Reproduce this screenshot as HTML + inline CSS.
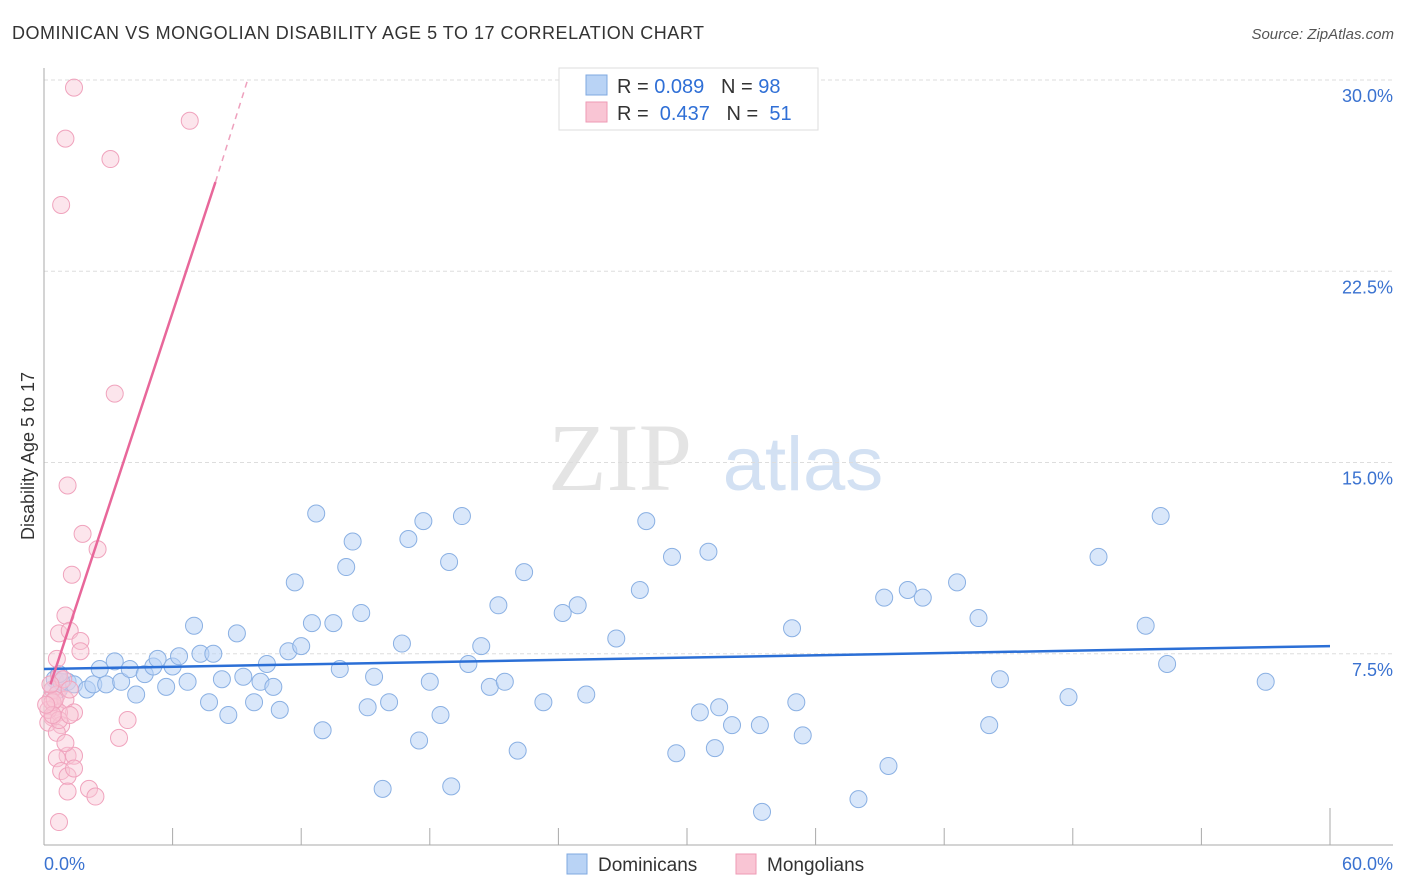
<!DOCTYPE html>
<html><head><meta charset="utf-8"><style>
body{margin:0;background:#fff;font-family:"Liberation Sans",sans-serif}
svg{display:block}
</style></head><body>
<svg id="chart" width="1406" height="892">
<text x="12" y="39" font-size="18" fill="#333" textLength="692">DOMINICAN VS MONGOLIAN DISABILITY AGE 5 TO 17 CORRELATION CHART</text>
<text x="1394" y="39" font-size="15" fill="#555" text-anchor="end" font-style="italic">Source: ZipAtlas.com</text>
<text x="620" y="490" font-size="96" fill="#e4e4e4" font-family="Liberation Serif,serif" text-anchor="middle">ZIP</text>
<text x="803" y="490" font-size="76" fill="#d3e1f3" text-anchor="middle">atlas</text>
<text transform="translate(34,456) rotate(-90)" font-size="18" fill="#333" text-anchor="middle">Disability Age 5 to 17</text>
<g id="grid"></g><g id="marks"></g><g id="lines"></g>
<g>
<rect x="559" y="68" width="259" height="62" fill="#fff" stroke="#ddd"/>
<rect x="586" y="75" width="21" height="20" fill="#b9d3f5" stroke="#7fa8e0"/>
<rect x="586" y="102" width="21" height="20" fill="#f9c5d4" stroke="#ee9ab5"/>
<text x="617" y="93" font-size="20" fill="#333">R = <tspan fill="#2f6fd6">0.089</tspan>&#160;&#160;&#160;N = <tspan fill="#2f6fd6">98</tspan></text>
<text x="617" y="120" font-size="20" fill="#333">R = <tspan fill="#2f6fd6">&#160;0.437</tspan>&#160;&#160;&#160;N = <tspan fill="#2f6fd6">&#160;51</tspan></text>
</g>
<g>
<rect x="567" y="854" width="20" height="20" fill="#b9d3f5" stroke="#7fa8e0"/>
<text x="598" y="871" font-size="19" fill="#333">Dominicans</text>
<rect x="736" y="854" width="20" height="20" fill="#f9c5d4" stroke="#ee9ab5"/>
<text x="767" y="871" font-size="19" fill="#333">Mongolians</text>
</g>
</svg>
<script>
const yTicks=[7.5,15,22.5,30];
const xTickLabels=["0.0%","60.0%"];
const domX=[0.5,0.7,1.1,1.4,2.0,2.3,2.6,2.9,3.3,3.6,4.0,4.3,4.7,5.1,5.3,5.7,6.0,6.3,6.7,7.0,7.3,7.7,7.9,8.3,8.6,9.0,9.3,9.8,10.1,10.4,10.7,11.0,11.4,11.7,12.0,12.5,12.7,13.0,13.5,13.8,14.1,14.4,14.8,15.1,15.4,15.8,16.1,16.7,17.0,17.5,17.7,18.0,18.5,18.9,19.0,19.5,19.8,20.4,20.8,21.2,21.5,22.1,22.4,23.3,24.2,24.9,25.3,26.7,27.8,28.1,29.3,29.5,30.6,31.0,31.3,31.5,32.1,33.4,33.5,34.9,35.1,35.4,38.0,39.2,39.4,40.3,41.0,42.6,43.6,44.1,44.6,47.8,49.2,51.4,52.1,52.4,57.0,0.4,0.8,0.7];
const domY=[6.5,6.1,6.4,6.3,6.1,6.3,6.9,6.3,7.2,6.4,6.9,5.9,6.7,7.0,7.3,6.2,7.0,7.4,6.4,8.6,7.5,5.6,7.5,6.5,5.1,8.3,6.6,5.6,6.4,7.1,6.2,5.3,7.6,10.3,7.8,8.7,13.0,4.5,8.7,6.9,10.9,11.9,9.1,5.4,6.6,2.2,5.6,7.9,12.0,4.1,12.7,6.4,5.1,11.1,2.3,12.9,7.1,7.8,6.2,9.4,6.4,3.7,10.7,5.6,9.1,9.4,5.9,8.1,10.0,12.7,11.3,3.6,5.2,11.5,3.8,5.4,4.7,4.7,1.3,8.5,5.6,4.3,1.8,9.7,3.1,10.0,9.7,10.3,8.9,4.7,6.5,5.8,11.3,8.6,12.9,7.1,6.4,6.1,6.4,6.7];
const monX=[1.4,1.0,6.8,3.1,0.8,3.3,1.1,1.8,2.5,1.3,1.0,0.7,1.2,1.7,1.7,0.6,0.7,0.4,0.6,0.3,0.5,1.0,1.4,0.4,0.2,0.7,0.8,0.6,1.1,1.4,0.6,0.8,1.1,1.4,2.1,1.1,2.4,3.9,3.5,0.7,0.2,0.4,0.9,0.5,1.2,0.3,0.7,1.0,0.4,0.1,1.2];
const monY=[29.7,27.7,28.4,26.9,25.1,17.7,14.1,12.2,11.6,10.6,9.0,8.3,8.4,8.0,7.6,7.3,6.6,6.1,5.9,5.7,5.4,5.7,5.2,5.0,4.8,5.2,4.7,4.4,3.5,3.5,3.4,2.9,2.7,3.0,2.2,2.1,1.9,4.9,4.2,0.9,5.3,5.6,6.5,5.7,6.1,6.3,4.9,4.0,5.1,5.5,5.1];
const domTrend=[6.9,7.8];
const monTrendStart=[0.3,6.3],monTrendSolidEnd=[8.0,26.0],monTrendEnd=[9.5,30.0];
const X=v=>44+v/60*1286, Y=v=>845-v/30*765;
const NS="http://www.w3.org/2000/svg";
function mk(tag,attrs,parent){const e=document.createElementNS(NS,tag);for(const k in attrs)e.setAttribute(k,attrs[k]);parent.appendChild(e);return e;}
const grid=document.getElementById('grid'),marks=document.getElementById('marks'),lines=document.getElementById('lines');
yTicks.forEach(t=>{
 const l=mk('line',{x1:44,x2:1393,y1:Y(t),y2:Y(t),stroke:'#ddd','stroke-dasharray':'4 3'},grid);
 
 
 const tx=mk('text',{x:1393,y:Y(t)+22,'font-size':18,fill:'#3a72d0','text-anchor':'end'},grid);
 tx.textContent=t.toFixed(1)+'%';
 
 
});
mk('line',{x1:44,x2:44,y1:68,y2:845,stroke:'#aaa'},grid);
mk('line',{x1:44,x2:1393,y1:845,y2:845,stroke:'#aaa'},grid);
for(let i=1;i<=10;i++){const t=mk('line',{x1:X(i*6),x2:X(i*6),y1:i==10?808:828,y2:845,stroke:'#aaa'},grid);
 
 }
[[0,'start',44],[60,'end',1393]].forEach((a,i)=>{const t=mk('text',{x:a[2],y:870,'font-size':18,fill:'#3a72d0','text-anchor':a[1]},grid);t.textContent=xTickLabels[i];
 
 });
domX.forEach((v,i)=>{const c=mk('circle',{cx:X(v),cy:Y(domY[i]),r:8.5,fill:'rgba(185,211,245,0.55)',stroke:'#8ab0e3','stroke-width':1},marks);
 
 });
monX.forEach((v,i)=>{const c=mk('circle',{cx:X(v),cy:Y(monY[i]),r:8.5,fill:'rgba(249,197,212,0.45)',stroke:'#f0a3bd','stroke-width':1},marks);
 
 });
const bl=mk('line',{x1:X(0),y1:Y(domTrend[0]),x2:X(60),y2:Y(domTrend[1]),stroke:'#2b6fd6','stroke-width':2.5},lines);


const pl=mk('line',{x1:X(monTrendStart[0]),y1:Y(monTrendStart[1]),x2:X(monTrendSolidEnd[0]),y2:Y(monTrendSolidEnd[1]),stroke:'#e8679a','stroke-width':2.5},lines);


const pd=mk('line',{x1:X(monTrendSolidEnd[0]),y1:Y(monTrendSolidEnd[1]),x2:X(monTrendEnd[0]),y2:Y(monTrendEnd[1]),stroke:'#eea0bd','stroke-width':1.5,'stroke-dasharray':'6 5'},lines);


</script>
</body></html>
